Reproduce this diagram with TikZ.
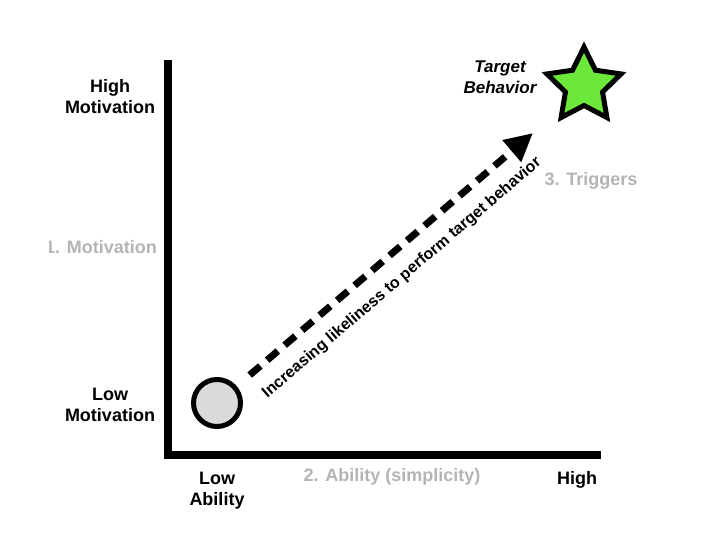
\documentclass[tikz,border=0pt]{standalone}
\usepackage{fontspec}
\setmainfont{Liberation Sans}
\usetikzlibrary{shapes.geometric,arrows.meta}
\definecolor{limegreen}{HTML}{6BE83A}
\definecolor{fadegray}{HTML}{B4B4B4}
\definecolor{dotgray}{HTML}{DADADA}
\tikzset{
    axislbl/.style={font=\bfseries\fontsize{18}{21}\selectfont, align=center, inner sep=0pt},
    graylbl/.style={axislbl, text=fadegray},
    dasharrow/.style={line width=7pt, dash pattern=on 14pt off 9pt, -{Triangle[length=28pt,width=27pt]}}
}
\begin{document}
\begin{tikzpicture}[x=1pt,y=-1pt]
    \useasboundingbox (0,0) rectangle (720,533);

    % axes
    \draw[line width=8pt] (168,60) -- (168,455) -- (601,455);

    % axis labels
    \node[axislbl] (hmot) at (110,97) {High\\Motivation};
    \node[axislbl] (lmot) at (110,405) {Low\\Motivation};
    \node[axislbl] (lab) at (217,491) {Low\\Ability};
    \node[axislbl] (hab) at (577,480) {High};
    \begin{scope}
        \clip (49,230) rectangle (165,265);
        \node[graylbl, anchor=east] (mot) at (157,247) {1. Motivation};
    \end{scope}
    \node[graylbl] (abl) at (392,477) {2. Ability (simplicity)};
    \node[graylbl] (trig) at (591,181) {3. Triggers};

    % start and goal
    \node[circle, draw, line width=5pt, fill=dotgray, minimum size=47pt] (start) at (217,403) {};
    \node[star, star points=5, star point ratio=2.0, draw, line width=5pt, fill=limegreen,
          minimum size=78pt, inner sep=0pt] (goal) at (584,86) {};
    \node[axislbl, font=\bfseries\itshape\fontsize{17}{21}\selectfont] (tgt) at (500,77) {Target\\Behavior};

    % path to the target
    \coordinate (tip) at (533,133);
    \draw[dasharrow, shorten <=17pt] (start) -- (tip);
    \node[rotate=40.5, inner sep=0pt, font=\bfseries\fontsize{16}{18}\selectfont] (lbl)
        at (402,278) {Increasing likeliness to perform target behavior};
\end{tikzpicture}
\end{document}
